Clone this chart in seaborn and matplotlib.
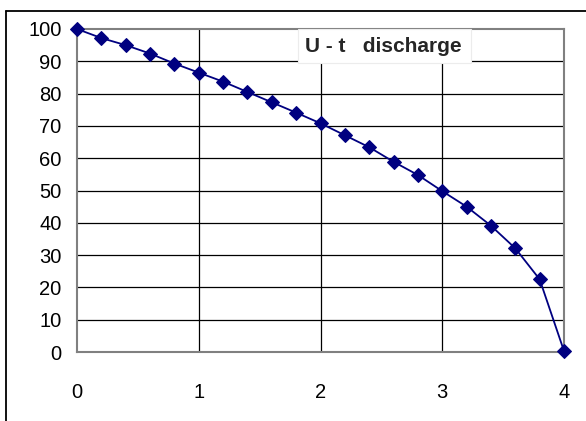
import pandas as pd
import matplotlib.pyplot as plt
import seaborn as sns
from matplotlib.lines import Line2D
from matplotlib.patches import Rectangle

t = [0.0, 0.2, 0.4, 0.6, 0.8, 1.0, 1.2, 1.4, 1.6, 1.8, 2.0,
     2.2, 2.4, 2.6, 2.8, 3.0, 3.2, 3.4, 3.6, 3.8, 4.0]
u = [100, 97.2, 95.0, 92.4, 89.3, 86.5, 83.7, 80.5, 77.3, 74.1, 70.8,
     67.1, 63.4, 58.9, 54.8, 49.8, 45.0, 39.1, 32.1, 22.5, 0.3]
x_ticks = [0, 1, 2, 3, 4]
y_ticks = [0, 10, 20, 30, 40, 50, 60, 70, 80, 90, 100]

df = pd.DataFrame({'t': t, 'U': u})

sns.set_style('white')
plt.rcParams['font.family'] = ['Liberation Sans', 'DejaVu Sans']

W, H = 586, 421
fig = plt.figure(figsize=(W / 100, H / 100), dpi=100)
ax = fig.add_axes([77 / W, 1 - 352 / H, 487 / W, 323 / H])

# grid
for xv in x_ticks[1:-1]:
    ax.axvline(xv, color='black', lw=0.9, zorder=1)
for yv in y_ticks[1:-1]:
    ax.axhline(yv, color='black', lw=0.9, zorder=1)

sns.lineplot(data=df, x='t', y='U', ax=ax, color='#000080', lw=1.3,
             marker='D', markersize=7, markeredgecolor='#000080', zorder=3,
             clip_on=False)

ax.set_xlim(0, 4)
ax.set_ylim(0, 100)
ax.set_xticks(x_ticks)
ax.set_yticks(y_ticks)
ax.set_xlabel('')
ax.set_ylabel('')
for s in ax.spines.values():
    s.set_color('#808080')
    s.set_linewidth(1.5)
ax.tick_params(axis='both', which='both', direction='out', length=5, width=1.2,
               color='#808080', labelsize=14.5, labelcolor='black')
ax.tick_params(axis='x', pad=17)
ax.tick_params(axis='y', pad=6)

# title box
fig.add_artist(Rectangle((298 / W, 1 - 63 / H), 173 / W, 34 / H,
                         transform=fig.transFigure, fc='white', ec='#ececec',
                         lw=0.8, zorder=4))
fig.text(383 / W, 1 - 46 / H, 'U - t   discharge',
         ha='center', va='center', fontsize=15, fontweight='bold', zorder=5)

fig.add_artist(Line2D([5.5 / W, 1], [1 - 10.5 / H, 1 - 10.5 / H],
                      color='black', lw=1.3, transform=fig.transFigure))
fig.add_artist(Line2D([5.5 / W, 5.5 / W], [0, 1 - 10.5 / H],
                      color='black', lw=1.3, transform=fig.transFigure))

plt.savefig('out.png', dpi=100)
